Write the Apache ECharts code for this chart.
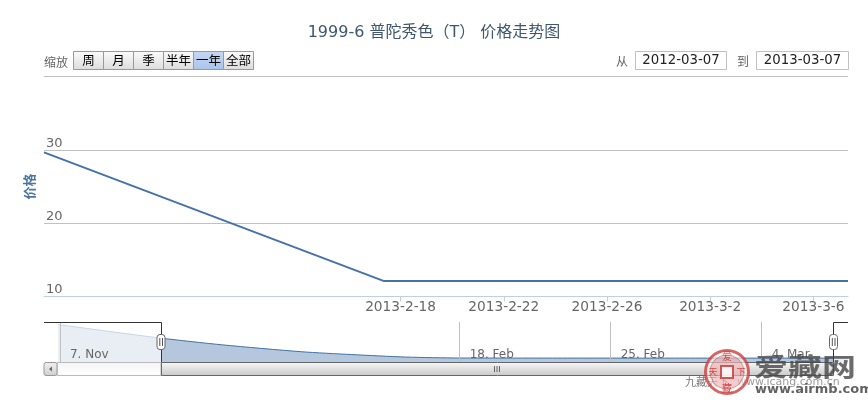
<!DOCTYPE html>
<html><head><meta charset="utf-8">
<script src="https://cdn.jsdelivr.net/npm/echarts@6/dist/echarts.min.js"></script>
<style>html,body{margin:0;padding:0;background:#fff}#c{width:868px;height:403px}</style>
</head><body><div id="c"></div>
<script>
var titleText = '1999-6 普陀秀色（T） 价格走势图';
var yAxisName = '价格';
var mainTimes = ['2013-02-04T04:20:00', '2013-02-17T08:40:00', '2013-03-07T08:10:00'];
var mainValues = [29.66, 12.1, 12.1];
var mainTickDates = ['2013-02-18T00:00:00', '2013-02-22T00:00:00', '2013-02-26T00:00:00', '2013-03-02T00:00:00', '2013-03-06T00:00:00'];
var yTicks = [10, 20, 30];
var navPositions = [-18.62, -13.9, -11, -7.35, -5, -2.5, 0, 10, 18];
var navValues = [29.66, 22.6, 19, 15.4, 13.9, 12.6, 12.1, 12.05, 12.05];
var navTickPositions = [-18.53, 0, 7, 14];
var navTickLabels = ['7. Nov', '18. Feb', '25. Feb', '4. Mar'];
var rangeButtons = ['周', '月', '季', '半年', '一年', '全部'];
var activeButton = '一年';
var fromDate = '2012-03-07';
var toDate = '2013-03-07';

var latin = '"DejaVu Sans","Noto Sans CJK SC",sans-serif';
var cjk = '"Noto Sans CJK SC",sans-serif';
function ts(s){ return new Date(s).getTime(); }
var chart = echarts.init(document.getElementById('c'), null, {renderer:'canvas'});

var g = [];
function text(x,y,t,o){ o=o||{}; g.push({type:'text',x:x,y:y,scaleY:o.scaleY||1,z:o.z||6,silent:true,style:{text:t,fill:o.fill||'#666',font:o.font||('12px '+cjk),align:o.align||'left',verticalAlign:'middle',opacity:o.opacity==null?1:o.opacity}}); }
function rect(x,y,w,h,st,z,r){ g.push({type:'rect',z:z||6,silent:true,shape:{x:x,y:y,width:w,height:h,r:r||0},style:st}); }
function line(x1,y1,x2,y2,c,z,o){ g.push({type:'line',z:z||6,silent:true,shape:{x1:x1,y1:y1,x2:x2,y2:y2},style:{stroke:c,lineWidth:1,opacity:o==null?1:o}}); }
function grad(a,b){ return new echarts.graphic.LinearGradient(0,0,0,1,[{offset:0,color:a},{offset:1,color:b}]); }

// range selector
text(44,62,'缩放',{fill:'#666',font:'12px '+cjk});
rangeButtons.forEach(function(b,i){
  var x=73.5+i*30, on=b===activeButton;
  rect(x,51.5,30,18,{fill:on?grad('#c6d8f2','#a9c4ea'):grad('#fbfbfb','#dcdcdc'),stroke:on?'#7f9fc9':'#999',lineWidth:1});
  text(x+15,60.5,b,{fill:'#000',align:'center',font:'12.5px '+cjk});
});
text(622,61.5,'从',{align:'center',font:'12px '+cjk});
rect(635.5,51.5,91,18,{fill:'#fff',stroke:'#c0c0c0',lineWidth:1});
text(681,60.5,fromDate,{fill:'#222',align:'center',font:'13.3px '+latin});
text(743,61.5,'到',{align:'center',font:'12px '+cjk});
rect(756.5,51.5,92,18,{fill:'#fff',stroke:'#c0c0c0',lineWidth:1});
text(802.5,60.5,toDate,{fill:'#222',align:'center',font:'13.3px '+latin});

// navigator mask + outline
rect(44,322,117,40,{fill:'rgba(255,255,255,0.7)'},6);
rect(833,322,15,40,{fill:'rgba(255,255,255,0.7)'},6);
line(44,322.5,161.5,322.5,'#333',8);
line(161.5,322.5,161.5,362,'#333',8);
line(833.5,322.5,848,322.5,'#333',8);
line(833.5,322.5,833.5,362,'#333',8);
// scrollbar
rect(57,362.5,104,13,{fill:grad('#f4f4f4','#ffffff'),stroke:'#bbb',lineWidth:1},8);
rect(161.5,362.5,672,13,{fill:grad('#f8f8f8','#c8c8c8'),stroke:'#666',lineWidth:1},8);
rect(44,362.5,13,13,{fill:grad('#f2f2f2','#cfcfcf'),stroke:'#999',lineWidth:1},8,2);
g.push({type:'polygon',z:9,silent:true,shape:{points:[[49,369],[52,366.5],[52,371.5]]},style:{fill:'#666'}});
[494,496.5,499].forEach(function(x){ line(x+.5,366,x+.5,372,'#666',9); });
// handles
[161,833.5].forEach(function(x){
  rect(x-4,334.5,8,15,{fill:'#fff',stroke:'#666',lineWidth:1},9,3);
  line(x-1.2,338,x-1.2,346,'#555',10); line(x+1.5,338,x+1.5,346,'#555',10);
});
// credit + watermark
text(685,382,'九藏天下',{fill:'#777',font:'11px '+cjk,z:10});
text(737,382,'www.icang.com.cn',{fill:'#999',font:'11px '+latin,z:10});
g.push({type:'circle',z:11,silent:true,shape:{cx:727,cy:372,r:21.5},style:{fill:'rgba(255,255,255,0.55)',stroke:'rgba(205,60,60,0.8)',lineWidth:3}});
g.push({type:'circle',z:11,silent:true,shape:{cx:727,cy:372,r:17},style:{fill:'rgba(214,90,90,0.3)',stroke:'rgba(205,60,60,0.5)',lineWidth:1}});
rect(721,366,12,12,{fill:'rgba(255,255,255,0.8)',stroke:'rgba(205,60,60,0.85)',lineWidth:2},12);
text(727,356,'爱',{fill:'rgba(200,50,50,0.85)',font:'10px '+cjk,align:'center',z:12});
text(727,388,'藏',{fill:'rgba(200,50,50,0.85)',font:'10px '+cjk,align:'center',z:12});
text(713,372,'天',{fill:'rgba(200,50,50,0.85)',font:'9px '+cjk,align:'center',z:12});
text(741,372,'下',{fill:'rgba(200,50,50,0.85)',font:'9px '+cjk,align:'center',z:12});
text(754,366,'爱藏网',{fill:'rgba(70,70,70,0.8)',font:'bold 34px '+cjk,z:12,scaleY:0.74});
text(755,390,'www.airmb.com',{fill:'rgba(70,70,70,0.85)',font:'bold 13px '+latin,z:12});

chart.setOption({
  animation:false,
  backgroundColor:'#fff',
  title:{text:titleText,left:429,textAlign:'center',top:20,textStyle:{color:'#3E576F',fontSize:16,fontWeight:'normal',fontFamily:latin}},
  grid:[
    {left:44,right:20,top:76.5,height:220,containLabel:false},
    {left:44,right:20,top:322,height:40}
  ],
  xAxis:[
    {type:'value',gridIndex:0,min:ts(mainTimes[0]),max:ts(mainTimes[2]),
      axisLine:{show:true,lineStyle:{color:'#C0D0E0'}},
      axisTick:{show:true,length:5,customValues:mainTickDates.map(ts),lineStyle:{color:'#C0D0E0'}},
      axisLabel:{customValues:mainTickDates.map(ts),color:'#666',fontSize:13.7,fontFamily:latin,margin:4,hideOverlap:false,
        formatter:function(v){var d=new Date(v);return d.getFullYear()+'-'+(d.getMonth()+1)+'-'+d.getDate();}},
      splitLine:{show:false}},
    {type:'value',gridIndex:1,z:7,min:-19.27,max:18,
      axisLine:{show:false},
      axisTick:{show:true,inside:true,length:40,customValues:navTickPositions,lineStyle:{color:'#C0C0C0'}},
      axisLabel:{show:true,inside:true,customValues:navTickPositions,color:'#666',fontSize:12,fontFamily:latin,margin:1,align:'left',padding:[0,0,0,10],hideOverlap:false,
        formatter:function(v){return navTickLabels[navTickPositions.indexOf(v)];}},
      splitLine:{show:false}}
  ],
  yAxis:[
    {type:'value',gridIndex:0,min:10,max:40,interval:10,
      name:yAxisName,nameLocation:'middle',nameGap:7,nameRotate:90,
      nameTextStyle:{color:'#4D759E',fontSize:13,fontWeight:'bold',fontFamily:cjk},
      axisLine:{show:false},axisTick:{show:false},
      axisLabel:{inside:true,customValues:yTicks,color:'#666',fontSize:13,fontFamily:latin,margin:2,verticalAlign:'bottom'},
      splitLine:{show:true,lineStyle:{color:'#C0C0C0'}}},
    {type:'value',gridIndex:1,min:10,max:31,show:false,splitLine:{show:false}}
  ],
  series:[
    {type:'line',xAxisIndex:0,yAxisIndex:0,showSymbol:false,symbol:'none',
      lineStyle:{color:'#4572A7',width:2},
      data:mainTimes.map(function(t,i){return [ts(t),mainValues[i]];})},
    {type:'line',xAxisIndex:1,yAxisIndex:1,showSymbol:false,symbol:'none',smooth:0.25,
      lineStyle:{color:'#4572A7',width:1},
      areaStyle:{color:'#4572A7',opacity:0.4},
      data:navPositions.map(function(p,i){return [p,navValues[i]];})}
  ],
  graphic:{elements:g}
});
</script></body></html>
